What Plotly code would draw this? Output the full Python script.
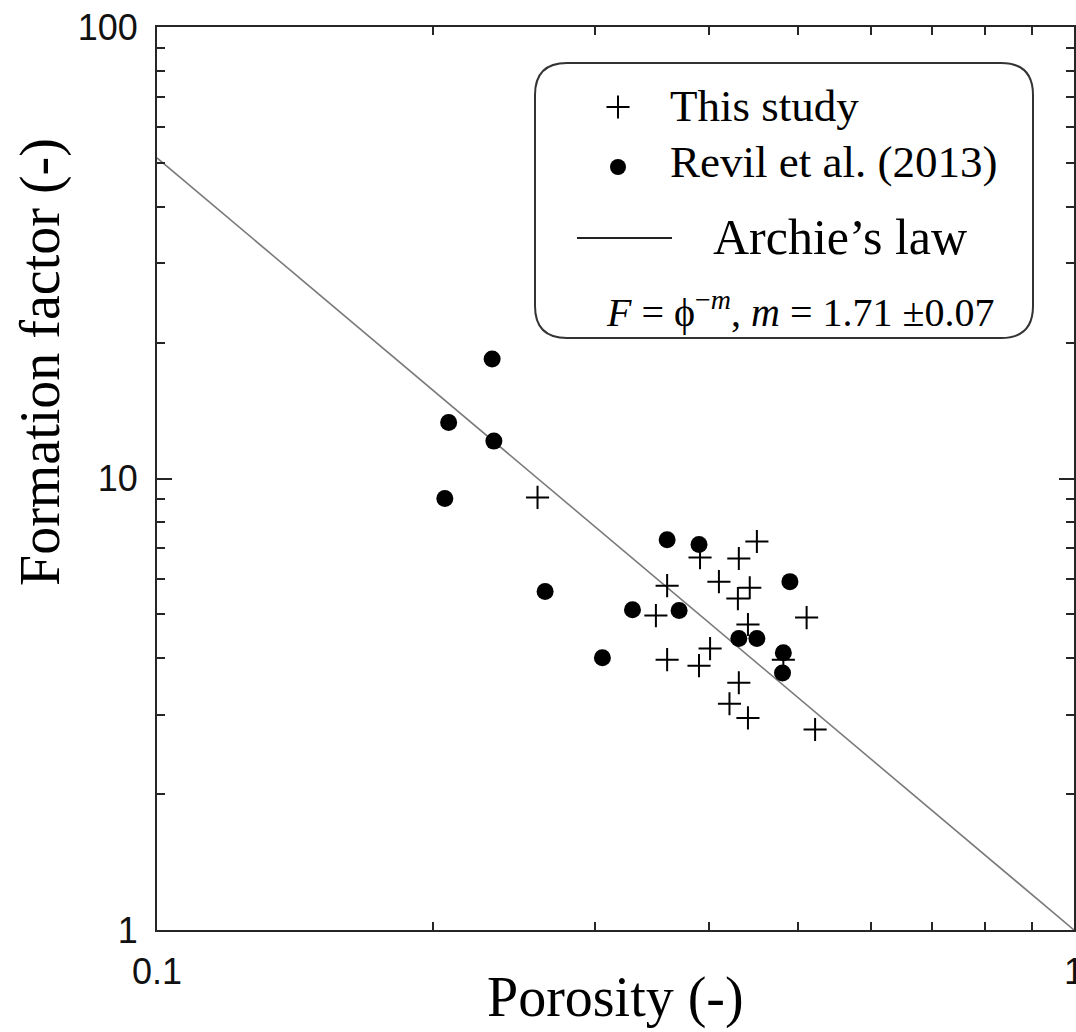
import plotly.graph_objects as go

# Porosity / formation factor measurements
this_study_phi = [0.451, 0.391, 0.431, 0.410, 0.360, 0.443, 0.430, 0.350, 0.511, 0.441,
                  0.401, 0.360, 0.390, 0.482, 0.431, 0.421, 0.441, 0.522, 0.260]
this_study_F = [7.25, 6.68, 6.65, 5.91, 5.79, 5.73, 5.42, 4.97, 4.92, 4.75,
                4.20, 3.97, 3.85, 3.97, 3.53, 3.17, 2.95, 2.78, 9.08]

revil_phi = [0.232, 0.208, 0.233, 0.206, 0.265, 0.306, 0.330, 0.360, 0.390, 0.371,
             0.431, 0.451, 0.490, 0.482, 0.481]
revil_F = [18.4, 13.3, 12.1, 9.03, 5.62, 4.01, 5.12, 7.32, 7.14, 5.10,
           4.42, 4.42, 5.91, 4.11, 3.71]

# Archie's law F = phi^-m
archie_m = 1.71
archie_phi = [0.1, 1.0]

x_tickvals = [0.1, 1]
x_ticktext = ["0.1", "1"]
y_tickvals = [1, 10, 100]
y_ticktext = ["1", "10", "100"]
x_minor = [0.2, 0.3, 0.4, 0.5, 0.6, 0.7, 0.8, 0.9]
y_minor = [2, 3, 4, 5, 6, 7, 8, 9, 20, 30, 40, 50, 60, 70, 80, 90]

W, H = 1076, 1032
L, R, T, B = 157, 2, 27, 102
PW, PH = W - L - R, H - T - B

AXIS_COLOR = "#262626"
SERIF = "Liberation Serif"
SANS = "Liberation Sans"


def px(xp):
    return (xp - L) / PW


def py(yp):
    return (H - B - yp) / PH


fig = go.Figure()

fig.add_trace(go.Scatter(
    x=archie_phi, y=[p ** (-archie_m) for p in archie_phi],
    mode="lines", line=dict(color="#7a7a7a", width=1.6),
    showlegend=False, hoverinfo="skip"))

PLUS = dict(symbol="cross-thin", size=16.5, color="black",
            line=dict(color="black", width=2))
DOT = dict(symbol="circle", size=17, color="black", line=dict(width=0))

fig.add_trace(go.Scatter(x=this_study_phi, y=this_study_F, mode="markers",
                         marker=PLUS, showlegend=False, name="This study"))
fig.add_trace(go.Scatter(x=revil_phi, y=revil_F, mode="markers",
                         marker=DOT, showlegend=False, name="Revil et al. (2013)"))

# Legend keys on a 0..1 overlay axis spanning the plotting area
fig.add_trace(go.Scatter(x=[px(618)], y=[py(107)], mode="markers", marker=PLUS,
                         xaxis="x2", yaxis="y2", showlegend=False, hoverinfo="skip"))
fig.add_trace(go.Scatter(x=[px(618)], y=[py(167)], mode="markers",
                         marker=dict(DOT, size=16),
                         xaxis="x2", yaxis="y2", showlegend=False, hoverinfo="skip"))

# Rounded legend frame
x0, x1, y0, y1, rr = 535, 1033, 63, 338, 32


def P(a, b):
    return f"{px(a):.5f},{py(b):.5f}"


path = (f"M {P(x0 + rr, y0)} L {P(x1 - rr, y0)} Q {P(x1, y0)} {P(x1, y0 + rr)} "
        f"L {P(x1, y1 - rr)} Q {P(x1, y1)} {P(x1 - rr, y1)} "
        f"L {P(x0 + rr, y1)} Q {P(x0, y1)} {P(x0, y1 - rr)} "
        f"L {P(x0, y0 + rr)} Q {P(x0, y0)} {P(x0 + rr, y0)} Z")
fig.add_shape(type="path", path=path, xref="paper", yref="paper",
              line=dict(color="#333333", width=2))
fig.add_shape(type="line", xref="paper", yref="paper",
              x0=px(577), x1=px(672), y0=py(238), y1=py(238),
              line=dict(color="#222222", width=2))

legend_text = [
    ("This study", 668, 106, 45),
    ("Revil et al. (2013)", 668, 162, 45),
    ("Archie\u2019s law", 711, 237, 50),
    ("<i>F</i> = \u03d5<sup>\u2212<i>m</i></sup>, <i>m</i> = 1.71 \u00b10.07", 604, 309, 40),
]
for txt, xa, ya, fs in legend_text:
    fig.add_annotation(text=txt, x=px(xa), y=py(ya), xref="paper", yref="paper",
                       xanchor="left", yanchor="middle", showarrow=False,
                       font=dict(family=SERIF, size=fs, color="black"))

axis_common = dict(
    type="log", showgrid=False, zeroline=False, automargin=False,
    showline=True, linecolor=AXIS_COLOR, linewidth=2, mirror="ticks",
    ticks="inside", ticklen=15, tickwidth=2, tickcolor=AXIS_COLOR,
    tickfont=dict(family=SANS, size=36, color="#111111"),
    ticklabeloverflow="allow",
    title=None,
)

fig.update_layout(
    width=W, height=H,
    margin=dict(l=L, r=R, t=T, b=B, autoexpand=False),
    paper_bgcolor="white", plot_bgcolor="white",
    xaxis=dict(axis_common, range=[-1, 0], tickvals=x_tickvals, ticktext=x_ticktext,
               ticklabelstandoff=9,
               minor=dict(tickvals=x_minor, ticks="inside", ticklen=8, tickwidth=2,
                          tickcolor=AXIS_COLOR)),
    yaxis=dict(axis_common, range=[0, 2], tickvals=y_tickvals, ticktext=y_ticktext,
               ticklabelstandoff=10,
               minor=dict(tickvals=y_minor, ticks="inside", ticklen=8, tickwidth=2,
                          tickcolor=AXIS_COLOR)),
    xaxis2=dict(range=[0, 1], overlaying="x", visible=False, fixedrange=True),
    yaxis2=dict(range=[0, 1], overlaying="y", visible=False, fixedrange=True),
    showlegend=False,
)

# Axis titles
fig.add_annotation(text="Porosity (-)", x=0.5, y=py(997), xref="paper", yref="paper",
                   xanchor="center", yanchor="middle", showarrow=False,
                   font=dict(family=SERIF, size=56, color="black"))
fig.add_annotation(text="Formation factor (-)", x=px(40), y=py(362), xref="paper",
                   yref="paper", xanchor="center", yanchor="middle", textangle=-90,
                   showarrow=False, font=dict(family=SERIF, size=56, color="black"))

fig.write_html("out.html")
